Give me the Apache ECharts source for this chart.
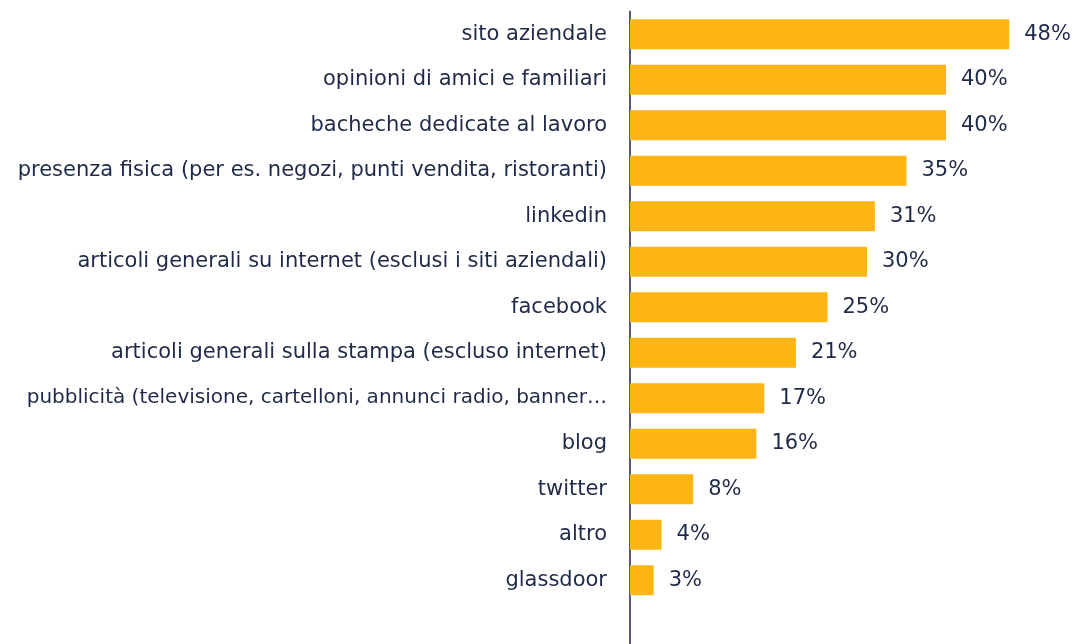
<!DOCTYPE html>
<html><head><meta charset="utf-8">
<script src="https://cdn.jsdelivr.net/npm/echarts@6/dist/echarts.min.js"></script>
<style>html,body{margin:0;padding:0;background:#fff}#c{width:1079px;height:644px}</style>
</head><body><div id="c"></div>
<script>
const categories = [
  "sito aziendale",
  "opinioni di amici e familiari",
  "bacheche dedicate al lavoro",
  "presenza fisica (per es. negozi, punti vendita, ristoranti)",
  "linkedin",
  "articoli generali su internet (esclusi i siti aziendali)",
  "facebook",
  "articoli generali sulla stampa (escluso internet)",
  "pubblicità (televisione, cartelloni, annunci radio, banner…",
  "blog",
  "twitter",
  "altro",
  "glassdoor",
  ""
];
const values = [48, 40, 40, 35, 31, 30, 25, 21, 17, 16, 8, 4, 3, null];

const chart = echarts.init(document.getElementById('c'));
const font = "'DejaVu Sans', sans-serif";
const catData = categories.map(c => c.startsWith('pubblicit')
  ? { value: c, textStyle: { fontSize: 20 } } : c);
chart.setOption({
  animation: false,
  grid: { left: 630, top: 11.5, width: 434.5, height: 637, outerBoundsMode: 'none', containLabel: false },
  xAxis: { type: 'value', min: 0, max: 55, show: false },
  yAxis: {
    type: 'category', data: catData, inverse: true,
    axisLine: { show: true, lineStyle: { color: '#1c2050', width: 1.5 } },
    axisTick: { show: false },
    axisLabel: { color: '#1f2a48', fontSize: 21, fontFamily: font, margin: 23 }
  },
  series: [{
    type: 'bar', data: values, barWidth: 30,
    itemStyle: { color: '#FDB515' },
    label: { show: true, position: 'right', distance: 15, color: '#1f2a48', fontSize: 21, fontFamily: font,
      formatter: p => p.value == null ? '' : p.value + '%' }
  }]
});
</script></body></html>
